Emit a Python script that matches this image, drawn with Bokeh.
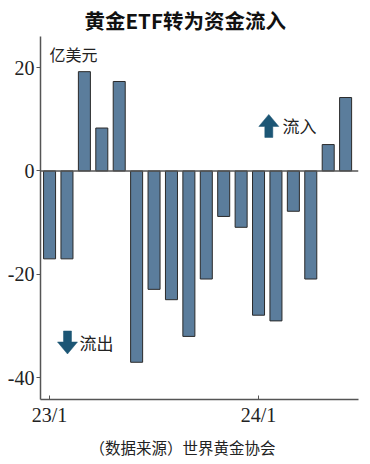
from bokeh.plotting import figure
from bokeh.embed import file_html
from bokeh.resources import INLINE
from bokeh.models import Range1d, FixedTicker, Span, Label, Title

# ---- data ----
months = ["23/1", "23/2", "23/3", "23/4", "23/5", "23/6", "23/7", "23/8", "23/9",
          "23/10", "23/11", "23/12", "24/1", "24/2", "24/3", "24/4", "24/5", "24/6"]
flows = [-17.0, -17.0, 19.2, 8.3, 17.3, -37.0, -22.9, -24.9, -32.0,
         -20.9, -8.8, -10.9, -27.9, -29.0, -7.8, -20.9, 5.1, 14.2]
tick_months = ["23/1", "24/1"]
y_ticks = [-40, -20, 0, 20]

title_text = "黄金ETF转为资金流入"
unit_text = "亿美元"
source_text = "（数据来源）世界黄金协会"

BAR = "#5b7d9c"
DARK = "#1c5675"
AXIS = "#555555"
CJK = "Noto Sans CJK SC"
NARROW = "Liberation Sans Narrow"

X0, X1 = -0.52, 17.74
Y0, Y1 = -44.2, 26.0
W, H = 370, 464
ML, MR, MT, MB = 40, 12, 36, 65
PX_X = (W - ML - MR) / (X1 - X0)   # pixels per x unit
PX_Y = (H - MT - MB) / (Y1 - Y0)   # pixels per y unit

xs = list(range(len(months)))

p = figure(width=W, height=H,
           x_range=Range1d(X0, X1), y_range=Range1d(Y0, Y1),
           output_backend="svg", toolbar_location=None,
           min_border_left=ML, min_border_right=MR,
           min_border_top=MT, min_border_bottom=MB)

p.title.text = title_text
p.title.text_font = CJK
p.title.text_font_size = "20.5px"
p.title.text_font_style = "bold"
p.title.text_color = "#111111"
p.title.align = "left"
p.title.offset = 44
p.title.standoff = 3

p.outline_line_color = None
p.xgrid.visible = False
p.ygrid.visible = False
p.background_fill_color = "white"
p.border_fill_color = "white"

p.vbar(x=xs, top=flows, bottom=0, width=0.69,
       fill_color=BAR, line_color="#2a2a2a", line_width=1)

p.add_layout(Span(location=0, dimension="width", line_color=AXIS, line_width=1.5))

# axes
p.xaxis.ticker = FixedTicker(ticks=[months.index(m) for m in tick_months])
p.xaxis.major_label_overrides = {months.index(m): m for m in tick_months}
p.xaxis.major_tick_in = 4
p.xaxis.major_tick_out = 0
p.xaxis.minor_tick_line_color = None
p.xaxis.major_label_standoff = 4
p.yaxis.ticker = FixedTicker(ticks=y_ticks)
p.yaxis.major_label_overrides = {v: str(v) for v in y_ticks}
p.yaxis.major_tick_in = 0
p.yaxis.major_tick_out = 4
p.yaxis.minor_tick_line_color = None
p.yaxis.major_label_standoff = 2
for ax in (p.xaxis, p.yaxis):
    ax.axis_line_color = AXIS
    ax.axis_line_width = 1.5
    ax.major_tick_line_color = AXIS
    ax.major_label_text_font = NARROW
    ax.major_label_text_font_size = "20px"
    ax.major_label_text_color = "#222222"

# source line below the axis
src = Title(text=source_text, text_font=CJK, text_font_size="15.5px",
            text_font_style="normal", text_color="#222222",
            align="left", offset=49, standoff=11)
p.add_layout(src, "below")

# unit label
p.add_layout(Label(x=0, y=22.7, text=unit_text, text_font=CJK, text_font_size="16px",
                   text_align="left", text_baseline="middle", text_color="#222222"))


def arrow_shape(x_tip, y_tip, direction):
    """Block arrow outline (pixel geometry converted to data units)."""
    head_w, head_h, shaft_w, total_h = 10, 12, 4, 23
    s = -1 if direction == "up" else 1
    px = [0, head_w, shaft_w, shaft_w, -shaft_w, -shaft_w, -head_w]
    py = [0, head_h, head_h, total_h, total_h, head_h, head_h]
    return ([x_tip + v / PX_X for v in px], [y_tip + s * v / PX_Y for v in py])


ux, uy = arrow_shape(12.59, 10.93, "up")
p.patch(ux, uy, fill_color=DARK, line_color=DARK, line_width=0.5)
p.add_layout(Label(x=13.38, y=8.7, text="流入", text_font=CJK, text_font_size="17px",
                   text_align="left", text_baseline="middle", text_color="#222222"))
dx, dy = arrow_shape(1.03, -35.4, "down")
p.patch(dx, dy, fill_color=DARK, line_color=DARK, line_width=0.5)
p.add_layout(Label(x=1.72, y=-33.2, text="流出", text_font=CJK, text_font_size="17px",
                   text_align="left", text_baseline="middle", text_color="#222222"))

open("out.html", "w").write(file_html(p, INLINE))
